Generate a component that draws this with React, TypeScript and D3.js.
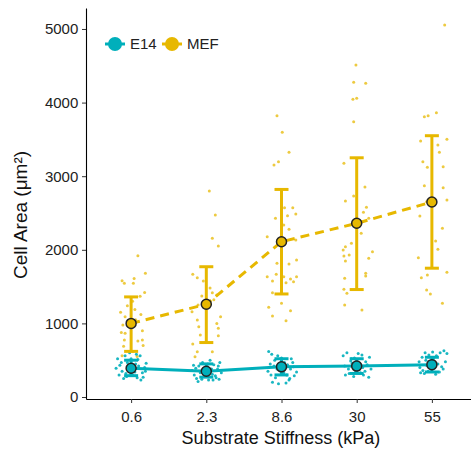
import React, { useEffect, useRef } from 'react';
import * as d3 from "d3";

const categories = ["0.6", "2.3", "8.6", "30", "55"];
const yTicks = [0, 1000, 2000, 3000, 4000, 5000];

// group means and sd range (lo, hi)
const e14Mean = [390, 350, 410, 420, 440];
const e14Lo = [290, 270, 300, 320, 340];
const e14Hi = [500, 450, 520, 520, 540];
const mefMean = [1000, 1260, 2110, 2360, 2650];
const mefLo = [620, 740, 1400, 1460, 1750];
const mefHi = [1360, 1770, 2820, 3250, 3550];

// raw cells: [jitter (category units), area]
const mefPoints = [
  [[0.09,1920],[0.19,1680],[0.04,1610],[-0.09,1545],[0.03,1545],[0.18,1420],[-0.12,1580],[0.05,1190],[-0.08,1090],[-0.11,980],[0.15,900],[-0.13,875],[-0.08,865],[-0.09,775],[0.15,775],[0.09,760],[-0.10,690],[0.12,1370],[0.02,1300],[-0.05,1240],[0.06,1050],[-0.14,1150],[0.13,1120],[0.02,620],[-0.12,560],[0.08,550],[0.16,700]],
  [[0.04,2800],[0.12,2473],[0.08,2156],[0.16,2052],[-0.18,1667],[-0.12,1621],[-0.04,1576],[-0.06,1372],[0.08,1417],[0.14,1386],[-0.19,1159],[-0.11,1250],[-0.12,1046],[0.19,1091],[0.14,1000],[0.16,933],[-0.10,955],[-0.08,842],[0.16,833],[-0.18,720],[0.08,615],[-0.12,615],[-0.15,548],[0.05,1480],[0.10,1320]],
  [[-0.06,3822],[0.01,3596],[0.10,3325],[-0.04,3197],[-0.10,3152],[0.04,2572],[0.15,2572],[-0.08,2428],[0.08,2463],[0.19,2486],[0.03,2337],[0.10,2278],[-0.19,2178],[0.19,2133],[-0.06,1816],[0.10,1807],[0.20,1861],[-0.19,1635],[-0.07,1667],[0.03,1635],[0.12,1603],[0.20,1635],[-0.12,1576],[0.06,1553],[0.16,1567],[-0.12,1417],[0.0,1273],[-0.17,1219],[0.12,1173],[-0.12,1101],[0.06,1037]],
  [[-0.01,4511],[-0.04,4276],[0.12,4262],[-0.05,4045],[0.0,4058],[-0.04,3741],[-0.17,3175],[0.11,2853],[-0.04,2731],[-0.15,2663],[0.13,2577],[0.09,2510],[0.16,2428],[0.06,2224],[-0.07,2088],[-0.15,2042],[-0.18,1997],[-0.10,1929],[-0.17,1916],[0.21,1974],[-0.15,1848],[0.16,1884],[0.12,1681],[-0.16,1613],[-0.17,1463],[-0.13,1409],[-0.16,1250],[0.07,1182],[0.12,1644]],
  [[0.17,5054],[-0.10,3808],[-0.05,3822],[0.06,3863],[-0.15,3478],[0.20,3501],[0.08,3424],[0.10,3325],[-0.12,3197],[-0.06,3121],[0.15,3129],[-0.10,2871],[0.15,2844],[0.20,2677],[-0.07,2654],[-0.16,2459],[0.14,2292],[0.05,2120],[0.08,2007],[-0.18,1893],[0.20,1694],[-0.14,1621],[-0.06,1658],[-0.07,1454],[0.14,1273],[-0.02,1400]]
];

const e14Points = [
  [[-0.18,520],[-0.15,430],[-0.12,350],[-0.16,300],[-0.08,560],[-0.05,470],[-0.03,420],[0.0,520],[0.03,380],[0.06,450],[0.09,510],[0.12,560],[0.15,330],[0.18,400],[-0.1,250],[-0.06,280],[0.02,300],[0.08,260],[0.13,230],[0.2,460],[-0.2,390],[0.05,340],[-0.02,600],[0.1,420],[0.16,270],[-0.13,470],[0.0,360],[0.07,580],[-0.07,320],[0.19,350]],
  [[-0.19,360],[-0.16,300],[-0.13,250],[-0.1,420],[-0.08,330],[-0.05,470],[-0.02,280],[0.0,400],[0.03,230],[0.05,500],[0.08,310],[0.1,440],[0.13,260],[0.15,380],[0.18,470],[0.2,330],[-0.17,430],[-0.11,210],[-0.04,350],[0.02,450],[0.07,380],[0.12,290],[0.17,240],[-0.14,390],[-0.06,240],[0.09,230],[0.16,420],[-0.01,320]],
  [[-0.17,620],[-0.13,580],[-0.09,500],[-0.05,560],[0.0,530],[0.04,470],[0.08,440],[0.12,380],[0.16,410],[0.2,340],[-0.18,350],[-0.14,300],[-0.1,420],[-0.06,380],[-0.02,460],[0.03,330],[0.07,300],[0.11,250],[0.15,470],[-0.12,200],[-0.04,180],[0.06,190],[0.1,230],[-0.08,260],[0.17,290],[0.01,400],[-0.15,450],[0.13,520]],
  [[-0.18,560],[-0.13,600],[-0.08,490],[-0.03,530],[0.02,590],[0.07,570],[0.12,480],[0.17,540],[-0.16,420],[-0.11,380],[-0.06,460],[-0.01,350],[0.04,410],[0.09,300],[0.14,440],[0.19,380],[-0.15,300],[-0.1,320],[-0.04,280],[0.05,330],[0.11,350],[0.16,270],[0.0,450],[-0.07,520],[0.08,400]],
  [[-0.17,480],[-0.13,540],[-0.09,600],[-0.04,570],[0.01,610],[0.06,560],[0.11,600],[0.16,630],[0.2,590],[-0.16,400],[-0.12,360],[-0.07,430],[-0.02,470],[0.03,390],[0.08,450],[0.13,410],[0.18,480],[-0.15,330],[-0.1,320],[-0.05,350],[0.0,380],[0.05,310],[0.1,340],[0.15,380],[0.02,520],[-0.08,500]]
];

const E14_COL = "#00AFBB";
const MEF_COL = "#E7B800";

export default function App() {
  const svgRef = useRef<SVGSVGElement>(null);

  useEffect(() => {
    const svg = d3.select(svgRef.current);
    svg.selectAll("*").remove();
    const font = "'Liberation Sans', Arial, sans-serif";

    const x = d3.scaleLinear().domain([-0.6, 4.6]).range([86, 477]);
    const y = d3.scaleLinear().domain([-27, 5285]).range([399, 8]);

    // axes
    const yAxis = svg.append("g").attr("transform", "translate(86,0)")
      .call(d3.axisLeft(y).tickValues(yTicks).tickSize(4).tickSizeOuter(0).tickFormat(d3.format("d")));
    const xAxis = svg.append("g").attr("transform", "translate(0,399)")
      .call(d3.axisBottom(x).tickValues(d3.range(categories.length)).tickSize(4).tickSizeOuter(0)
        .tickFormat((d: any) => categories[d]));
    [yAxis, xAxis].forEach(a => {
      a.select(".domain").attr("stroke", "#000").attr("stroke-width", 1.1);
      a.selectAll(".tick line").attr("stroke", "#333");
      a.selectAll(".tick text").attr("font-family", font).attr("font-size", 15).attr("fill", "#222");
    });
    yAxis.selectAll(".tick text").attr("dx", "-0.05em");
    xAxis.selectAll(".tick text").attr("dy", "1.05em");

    // raw points
    const drawPts = (pts: number[][][], col: string, op: number) => {
      pts.forEach((grp, i) => {
        svg.append("g").selectAll("circle").data(grp).enter().append("circle")
          .attr("cx", d => x(i + d[0]))
          .attr("cy", d => y(d[1]))
          .attr("r", 1.5)
          .attr("fill", col)
          .attr("opacity", op);
      });
    };
    drawPts(mefPoints, MEF_COL, 0.75);
    drawPts(e14Points, E14_COL, 0.9);

    const line = d3.line<number>().x((d, i) => x(i)).y(d => y(d));

    const drawSeries = (mean: number[], lo: number[], hi: number[], col: string, dash: string | null) => {
      const p = svg.append("path").attr("d", line(mean)!)
        .attr("stroke", col).attr("stroke-width", 3).attr("fill", "none");
      if (dash) p.attr("stroke-dasharray", dash);
      const g = svg.append("g").attr("stroke", col).attr("stroke-width", 3);
      mean.forEach((m, i) => {
        g.append("line").attr("x1", x(i)).attr("x2", x(i)).attr("y1", y(lo[i])).attr("y2", y(hi[i]));
        [lo[i], hi[i]].forEach(v => {
          g.append("line").attr("x1", x(i) - 7).attr("x2", x(i) + 7).attr("y1", y(v)).attr("y2", y(v));
        });
      });
      svg.append("g").selectAll("circle").data(mean).enter().append("circle")
        .attr("cx", (d, i) => x(i)).attr("cy", d => y(d)).attr("r", 5)
        .attr("fill", col).attr("stroke", "#222").attr("stroke-width", 1.5);
    };
    drawSeries(mefMean, mefLo, mefHi, MEF_COL, "9,6");
    drawSeries(e14Mean, e14Lo, e14Hi, E14_COL, null);

    // legend
    const legend = [["E14", E14_COL, 115], ["MEF", MEF_COL, 172]] as [string, string, number][];
    legend.forEach(([name, col, lx]) => {
      svg.append("line").attr("x1", lx - 10).attr("x2", lx + 10).attr("y1", 44).attr("y2", 44)
        .attr("stroke", col).attr("stroke-width", 3);
      svg.append("circle").attr("cx", lx).attr("cy", 44).attr("r", 7).attr("fill", col);
      svg.append("text").attr("x", lx + 15).attr("y", 49).text(name)
        .attr("font-family", font).attr("font-size", 15).attr("fill", "#222");
    });

    // axis titles
    svg.append("text").attr("transform", "translate(27,215) rotate(-90)")
      .attr("text-anchor", "middle").attr("font-family", font).attr("font-size", 19).attr("fill", "#111")
      .text("Cell Area (μm²)");
    svg.append("text").attr("x", 281).attr("y", 444)
      .attr("text-anchor", "middle").attr("font-family", font).attr("font-size", 18).attr("fill", "#111")
      .text("Substrate Stiffness (kPa)");
    // eslint-disable-next-line
  }, []);

  return (
    <svg
      ref={svgRef}
      width={471}
      height={452}
      style={{ position: 'absolute', left: 0, top: 0, background: '#fff' }}
    ></svg>
  );
}
